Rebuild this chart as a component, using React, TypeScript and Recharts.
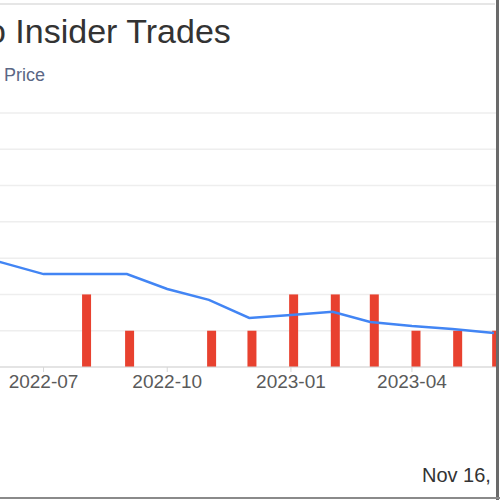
import React from "react";
import { ComposedChart, Bar, Line, XAxis, YAxis, CartesianGrid } from "recharts";

// ---- data ----
const priceDates = [
  "2022-05-01", "2022-06-01", "2022-07-01", "2022-08-01", "2022-09-01", "2022-10-01",
  "2022-11-01", "2022-12-01", "2023-01-01", "2023-02-01", "2023-03-01", "2023-04-01",
  "2023-05-01", "2023-06-01",
];
const priceValues = [31.7, 28.7, 25.6, 25.6, 25.6, 21.5, 18.5, 13.5, 14.3, 15.2, 12.4, 11.3, 10.5, 9.4];

const tradeDates = [
  "2022-08-02", "2022-09-03", "2022-11-03", "2022-12-03", "2023-01-03",
  "2023-02-03", "2023-03-04", "2023-04-04", "2023-05-05", "2023-06-03",
];
const tradeCounts = [2, 1, 1, 1, 2, 2, 2, 1, 1, 1];

const tickDates = ["2022-07-01", "2022-10-01", "2023-01-01", "2023-04-01"];
const tickLabels = ["2022-07", "2022-10", "2023-01", "2023-04"];

const domainDates = ["2022-04-15", "2023-06-04"];
const tradeTicks = [0, 1, 2, 3, 4, 5, 6, 7];

const titleText = "o Insider Trades";
const legendText = "Price";
const footerText = "Nov 16,";

// ---- helpers ----
const ts = (d: string) => Date.parse(d + "T00:00:00Z");

const priceData = priceDates.map((d, i) => ({ t: ts(d), price: priceValues[i] }));
const tradeData = tradeDates.map((d, i) => ({ t: ts(d), trades: tradeCounts[i] }));
const tickTs = tickDates.map(ts);
const domainTs = domainDates.map(ts);

const fmtTick = (v: number) => {
  const i = tickTs.indexOf(v);
  return i >= 0 ? tickLabels[i] : "";
};

const FONT = '"Liberation Sans", Arial, sans-serif';

export default function App() {
  return (
    <div
      style={{
        position: "fixed",
        left: 0,
        top: 0,
        width: 500,
        height: 500,
        overflow: "hidden",
        background: "#fff",
        fontFamily: FONT,
      }}
    >
      {/* top light rule */}
      <div style={{ position: "absolute", left: 0, top: 3, width: 495, height: 2, background: "#e6e6e6" }} />
      {/* title */}
      <div
        style={{
          position: "absolute",
          left: -13,
          top: 11,
          fontSize: 34,
          color: "#333",
          whiteSpace: "nowrap",
          lineHeight: "40px",
        }}
      >
        {titleText}
      </div>
      {/* legend label */}
      <div
        style={{
          position: "absolute",
          left: 4,
          top: 64,
          fontSize: 18,
          color: "#5b6785",
          whiteSpace: "nowrap",
          lineHeight: "22px",
        }}
      >
        {legendText}
      </div>

      <div style={{ position: "absolute", left: -60, top: 0 }}>
        <ComposedChart
          width={558}
          height={407}
          data={tradeData}
          margin={{ top: 113, right: 0, bottom: 0, left: 0 }}
        >
          <CartesianGrid
            vertical={false}
            stroke="#eeeeee"
            strokeWidth={1.5}
            yAxisId="trades"
            xAxisId="bars"
          />
          <XAxis
            xAxisId="bars"
            dataKey="t"
            type="number"
            scale="linear"
            domain={domainTs}
            ticks={tickTs}
            tickFormatter={fmtTick}
            interval={0}
            height={40}
            stroke="#d6d6d6"
            tickSize={5}
            tickMargin={3}
            tick={{ fill: "#5a5a5a", fontSize: 19, fontFamily: FONT }}
          />
          <XAxis
            xAxisId="line"
            dataKey="t"
            type="number"
            scale="linear"
            domain={domainTs}
            hide
          />
          <YAxis yAxisId="trades" domain={[0, 7]} ticks={tradeTicks} hide />
          <YAxis yAxisId="price" domain={[0, 70]} hide />
          <Bar
            xAxisId="bars"
            yAxisId="trades"
            dataKey="trades"
            fill="#e8412f"
            barSize={9}
            isAnimationActive={false}
          />
          <Line
            xAxisId="line"
            yAxisId="price"
            data={priceData}
            dataKey="price"
            type="linear"
            stroke="#4285f4"
            strokeWidth={2.5}
            dot={false}
            activeDot={false}
            isAnimationActive={false}
          />
        </ComposedChart>
      </div>

      {/* footer date */}
      <div
        style={{
          position: "absolute",
          left: 422,
          top: 463,
          fontSize: 20,
          color: "#333",
          whiteSpace: "nowrap",
          lineHeight: "24px",
        }}
      >
        {footerText}
      </div>
      {/* right and bottom frame */}
      <div style={{ position: "absolute", left: 496, top: 0, width: 3, height: 500, background: "#6a6a6a" }} />
      <div style={{ position: "absolute", left: 0, top: 497, width: 500, height: 2, background: "#8a8a8a" }} />
    </div>
  );
}
